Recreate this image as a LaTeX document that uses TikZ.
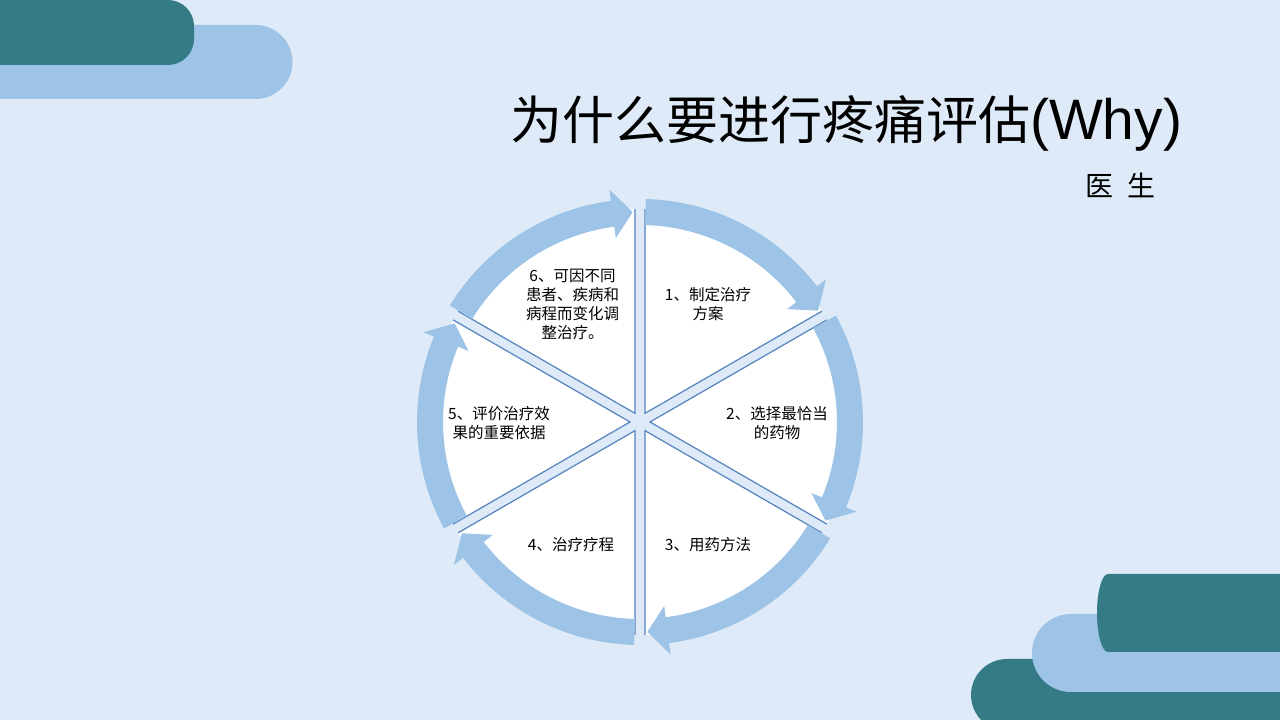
\documentclass[tikz,border=0pt]{standalone}
\usepackage{fontspec}
\setmainfont{Noto Sans CJK SC}
\newfontfamily\latfont{Liberation Sans}
\definecolor{bgc}{RGB}{222,234,247}
\definecolor{bandc}{RGB}{157,195,230}
\definecolor{tealc}{RGB}{52,123,134}
\definecolor{spokec}{RGB}{84,130,190}
\tikzset{
  lab/.style={font=\fontsize{15.5}{19}\selectfont, align=center, inner sep=0pt, text=black},
  spokeline/.style={draw=spokec, line width=1.2pt, line join=miter},
}
\begin{document}
\begin{tikzpicture}[x=1pt,y=1pt]
\useasboundingbox (0,0) rectangle (1280,720);
\fill[bgc] (0,0) rectangle (1280,720);
% top-left decoration
\fill[bandc] (-20,621) -- (255.5,621) arc[start angle=-90,end angle=90,radius=37] -- (-20,695) -- cycle;
\fill[tealc, rounded corners=26pt] (-40,655) rectangle (194,720);
% bottom-right decoration
\fill[tealc] (1300,61) -- (1007,61) arc[start angle=90,end angle=270,radius=36] -- (1300,-11) -- cycle;
\fill[bandc] (1300,106) -- (1071,106) arc[start angle=90,end angle=270,radius=39] -- (1300,28) -- cycle;
\fill[tealc] (1300,146) -- (1108,146) arc[start angle=90,end angle=270,x radius=11,y radius=39] -- (1300,68) -- cycle;
% cycle diagram
\begin{scope}[shift={(640,298)}]
\foreach \a in {90,30,-30,-90,-150,-210} {
  \pgfmathsetmacro\b{\a-30}
  \pgfmathsetmacro\c{\a-60}
  \pgfmathsetmacro\sa{\a-1.35}
  \pgfmathsetmacro\sb{\c+1.35}
  \fill[white] (\b:10) -- (\sa:213) arc[start angle=\sa, end angle=\sb, radius=213] -- cycle;
  \draw[spokeline] (\sa:213) -- (\b:10) -- (\sb:213);
}
\foreach \a in {90,30,-30,-90,-150,-210} {
  \pgfmathsetmacro\ta{\a-1.5}
  \pgfmathsetmacro\ba{\a-52.5}
  \pgfmathsetmacro\tp{\a-58}
  \fill[bandc] (\ta:223) arc[start angle=\ta, end angle=\ba, radius=223] -- (\ba:234.5) -- (\tp:210) -- (\ba:185.5) -- (\ba:197) arc[start angle=\ba, end angle=\ta, radius=197] -- cycle;
}
\end{scope}
% labels
\node[lab] (t1) at (708,415.5) {1、制定治疗\\方案};
\node[lab] (t2) at (777,296.5) {2、选择最恰当\\的药物};
\node[lab] (t3) at (708,175) {3、用药方法};
\node[lab] (t4) at (571,175) {4、治疗疗程};
\node[lab] (t5) at (499,296.5) {5、评价治疗效\\果的重要依据};
\node[lab] (t6) at (572.5,416) {6、可因不同\\患者、疾病和\\病程而变化调\\整治疗。};
% title
\node[anchor=base west, inner sep=0pt, font=\fontsize{52}{60}\selectfont] (title) at (510,580) {为什么要进行疼痛评估{\latfont\fontsize{57}{62}\selectfont (Why)}};
\node[anchor=base west, inner sep=0pt, font=\fontsize{28}{32}\selectfont] (sub) at (1085,523) {医\hspace{8pt} 生};
\end{tikzpicture}
\end{document}
